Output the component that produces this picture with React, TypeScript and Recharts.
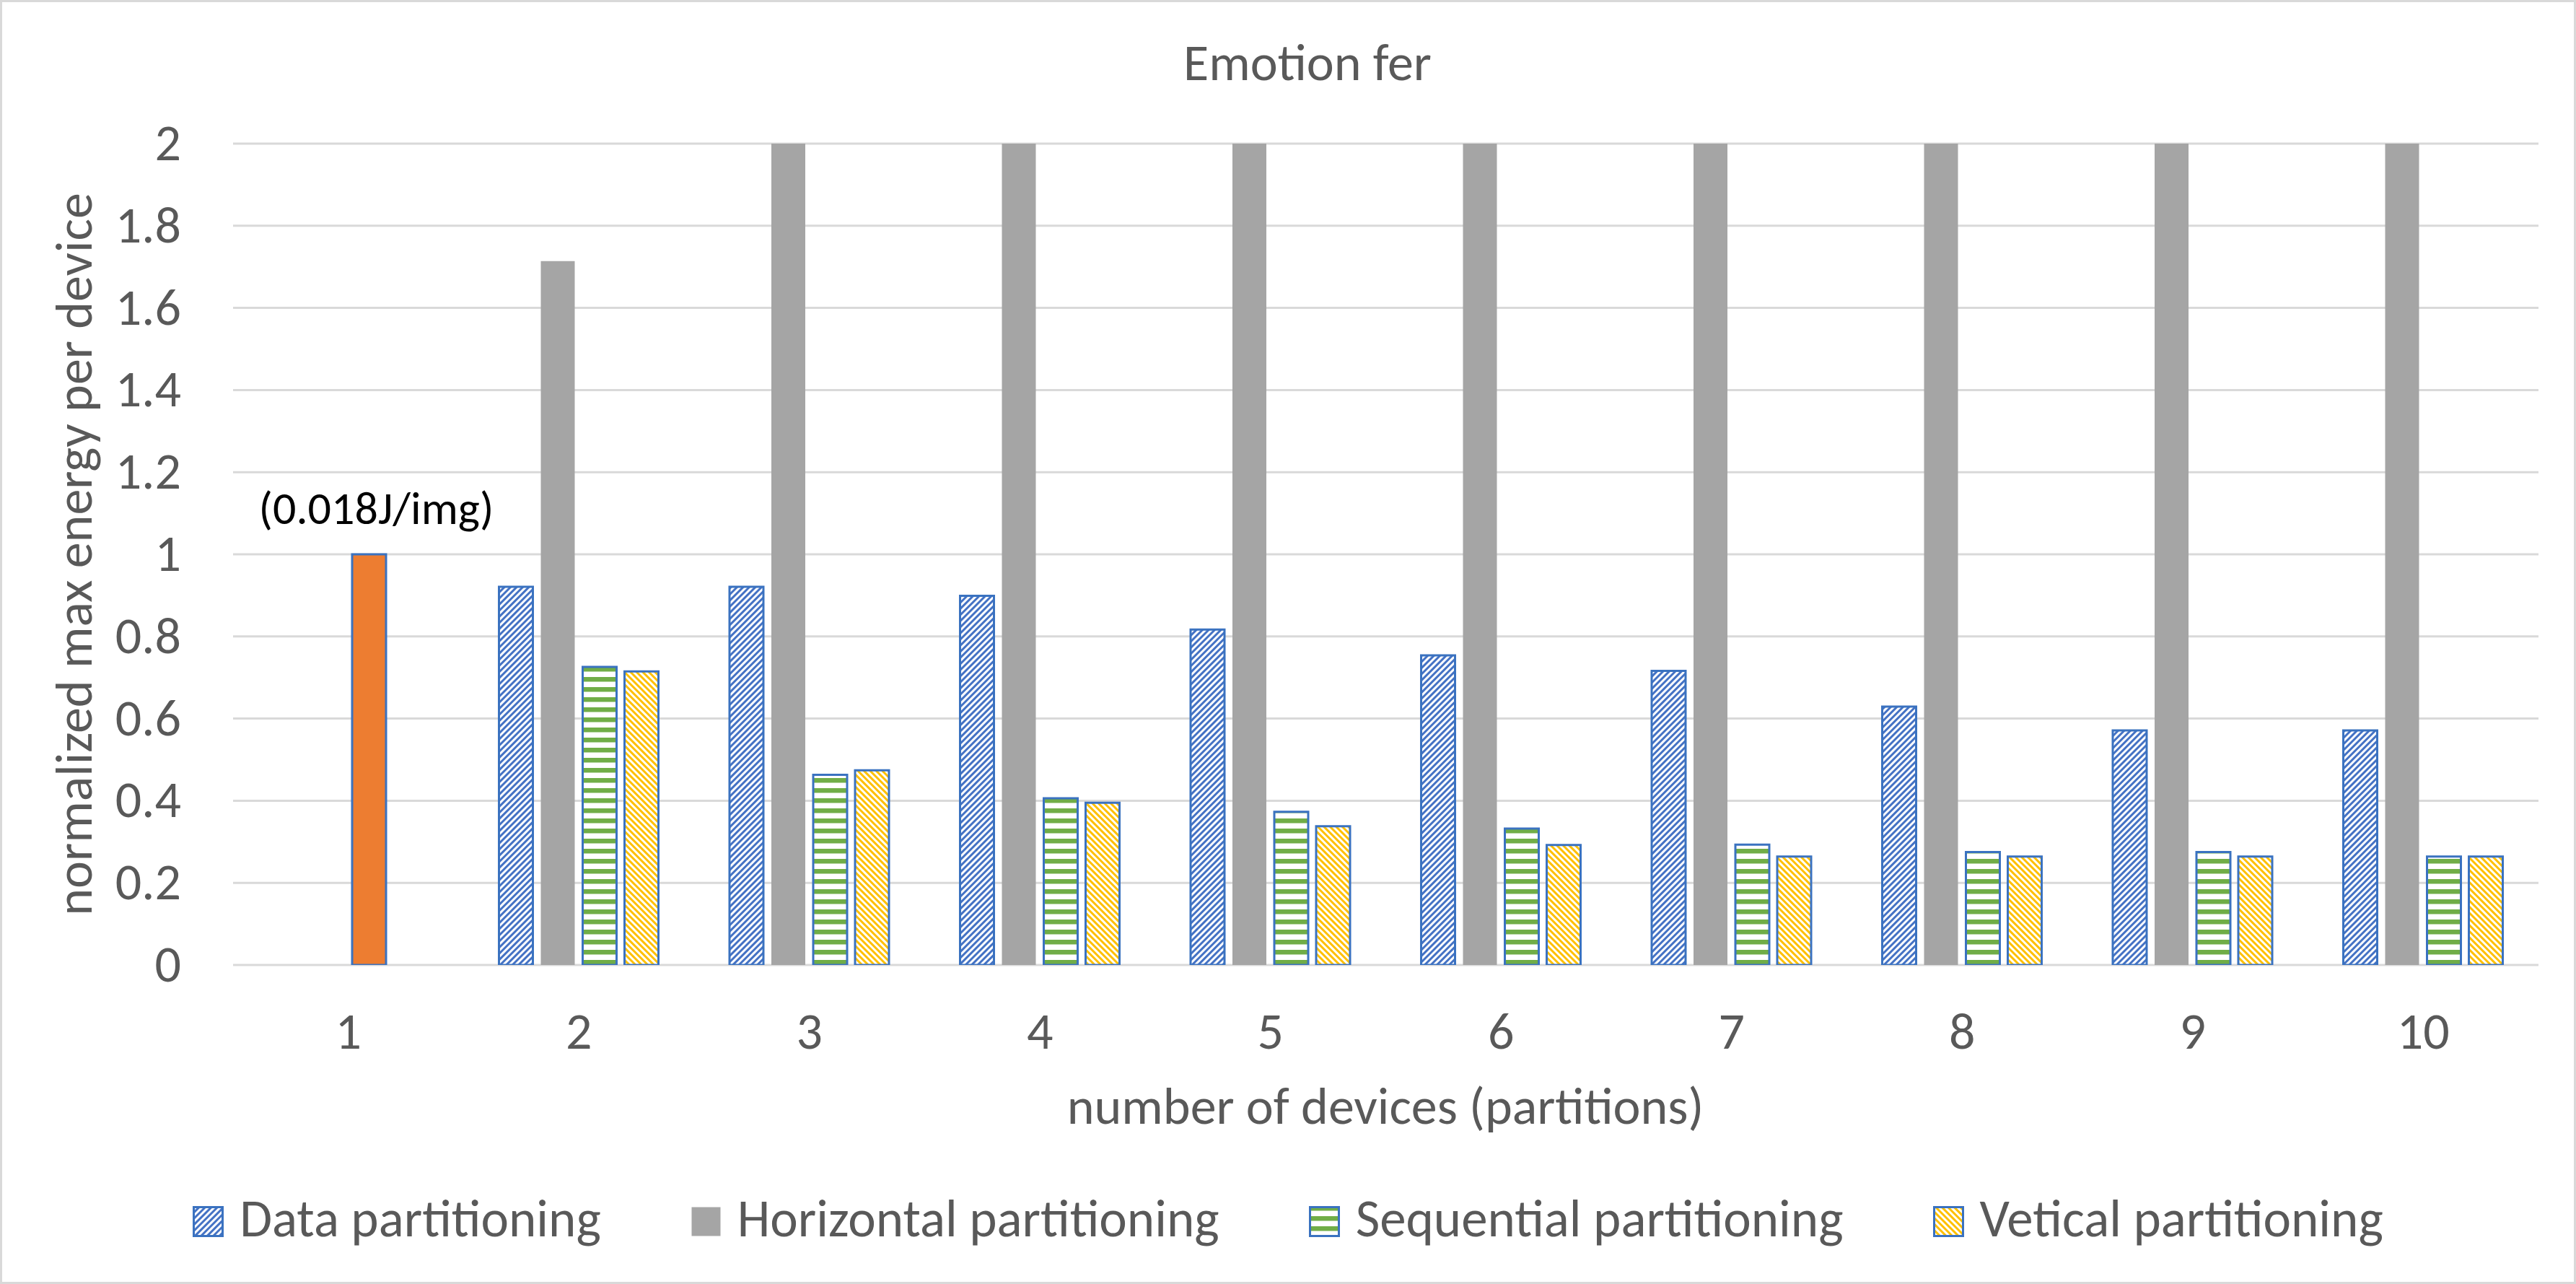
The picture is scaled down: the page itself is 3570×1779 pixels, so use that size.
import React from "react";
import {
  BarChart,
  Bar,
  XAxis,
  YAxis,
  CartesianGrid,
  Legend,
  LabelList,
  Cell,
} from "recharts";

// values (normalized max energy per device)
const categories = ["1", "2", "3", "4", "5", "6", "7", "8", "9", "10"];
const dataPartitioning = [null, 0.921, 0.921, 0.899, 0.817, 0.754, 0.716, 0.629, 0.571, 0.571];
// bars 3..10 run past the top of the axis, so these are rough guesses
const horizontalPartitioning = [null, 1.714, 2.55, 3.4, 4.3, 5.1, 6.0, 6.9, 7.7, 8.6];
const sequentialPartitioning = [1.0, 0.726, 0.463, 0.406, 0.373, 0.332, 0.293, 0.275, 0.275, 0.264];
const verticalPartitioning = [null, 0.715, 0.474, 0.395, 0.338, 0.292, 0.264, 0.264, 0.264, 0.264];
const yTicks = [0, 0.2, 0.4, 0.6, 0.8, 1, 1.2, 1.4, 1.6, 1.8, 2];

const seriesNames = [
  "Data partitioning",
  "Horizontal partitioning",
  "Sequential partitioning",
  "Vetical partitioning",
];
const chartTitle = "Emotion fer";
const xTitle = "number of devices (partitions)";
const yTitle = "normalized max energy per device";
const baselineNote = "(0.018J/img)";

const rows = categories.map((c, i) => ({
  devices: c,
  data: dataPartitioning[i],
  horizontal: horizontalPartitioning[i],
  sequential: sequentialPartitioning[i],
  vertical: verticalPartitioning[i],
}));

const W = 3570;
const H = 1779;
const FONT = "Carlito, Calibri, Lato, sans-serif";
const FS = 72;
const TEXT = "#595959";
const BORDER = "#3A72C0";
const BLUE = "#4472C4";
const GREEN = "#70AD47";
const GOLD = "#FFC000";
const GRAY = "#A5A5A5";
const ORANGE = "#ED7D31";
const GRID = "#D9D9D9";

const renderPatterns = (p: string) => (
  <defs>
    <pattern id={`${p}-data`} patternUnits="userSpaceOnUse" width={6} height={6} patternTransform="rotate(45)">
      <rect width={6} height={6} fill="#fff" />
      <rect width={3} height={6} fill={BLUE} />
    </pattern>
    <pattern id={`${p}-seq`} patternUnits="userSpaceOnUse" width={14} height={14}>
      <rect width={14} height={14} fill="#fff" />
      <rect y={0} width={14} height={6.5} fill={GREEN} />
    </pattern>
    <pattern id={`${p}-vert`} patternUnits="userSpaceOnUse" width={6} height={6} patternTransform="rotate(-45)">
      <rect width={6} height={6} fill="#fff" />
      <rect width={3} height={6} fill={GOLD} />
    </pattern>
  </defs>
);

const seriesFills = ["url(#lg-data)", GRAY, "url(#lg-seq)", "url(#lg-vert)"];
const seriesStrokes = [BORDER, "none", BORDER, BORDER];

type TickProps = { x: number; y: number; payload: { value: string | number } };

const renderYTick = ({ x, y, payload }: TickProps) => (
  <text x={x} y={y + 23} textAnchor="end" fill={TEXT} fontSize={FS} fontFamily={FONT}>
    {String(payload.value)}
  </text>
);

const renderXTick = ({ x, y, payload }: TickProps) => (
  <text x={x} y={y + 116} textAnchor="middle" fill={TEXT} fontSize={FS} fontFamily={FONT}>
    {payload.value}
  </text>
);

const renderNote = (props: any) => {
  const { x, y, width, index } = props;
  if (index !== 0) return null;
  return (
    <text
      x={Number(x) + Number(width) / 2 + 10}
      y={Number(y) - 42}
      textAnchor="middle"
      fill="#000"
      fontSize={64}
      fontFamily={FONT}
    >
      {baselineNote}
    </text>
  );
};

const renderLegend = () => (
  <div
    style={{
      display: "flex",
      justifyContent: "center",
      alignItems: "center",
      fontFamily: FONT,
      fontSize: 73,
      lineHeight: `${FS}px`,
      color: TEXT,
      whiteSpace: "nowrap",
    }}
  >
    {seriesNames.map((name, i) => (
      <div key={name} style={{ display: "flex", alignItems: "center", marginLeft: i ? 124 : 0 }}>
        <svg width={43} height={43} style={{ marginRight: 22, position: "relative", top: 4 }}>
          {i === 0 ? renderPatterns("lg") : null}
          {i === 1 ? (
            <rect x={1.5} y={1.5} width={40} height={40} fill={GRAY} />
          ) : (
            <rect x={1.5} y={1.5} width={40} height={40} fill={seriesFills[i]} stroke={seriesStrokes[i]} strokeWidth={3} />
          )}
        </svg>
        <span>{name}</span>
      </div>
    ))}
  </div>
);

export default function App() {
  return (
    <div style={{ position: "absolute", left: 0, top: 0, background: "#fff" }}>
      <BarChart
        width={W}
        height={H}
        data={rows}
        margin={{ top: 199, right: 52, bottom: 322, left: 251 }}
        barSize={47}
        barGap={11}
      >
        {renderPatterns("p")}
        <rect x={1.5} y={1.5} width={W - 3} height={H - 3} fill="none" stroke={GRID} strokeWidth={3} />
        <CartesianGrid vertical={false} stroke={GRID} strokeWidth={3} />
        <XAxis
          dataKey="devices"
          height={120}
          axisLine={false}
          tickLine={false}
          tickSize={0}
          tickMargin={0}
          interval={0}
          tick={renderXTick}
        />
        <YAxis
          width={72}
          domain={[0, 2]}
          ticks={yTicks}
          allowDataOverflow
          axisLine={false}
          tickLine={false}
          tickSize={0}
          tickMargin={72}
          tick={renderYTick}
        />
        <Bar dataKey="data" name={seriesNames[0]} fill="url(#p-data)" stroke={BORDER} strokeWidth={3} isAnimationActive={false} />
        <Bar dataKey="horizontal" name={seriesNames[1]} fill={GRAY} isAnimationActive={false} />
        <Bar dataKey="sequential" name={seriesNames[2]} fill="url(#p-seq)" stroke={BORDER} strokeWidth={3} isAnimationActive={false}>
          {rows.map((r, i) => (
            <Cell key={r.devices} fill={i === 0 ? ORANGE : "url(#p-seq)"} />
          ))}
          <LabelList dataKey="sequential" content={renderNote} />
        </Bar>
        <Bar dataKey="vertical" name={seriesNames[3]} fill="url(#p-vert)" stroke={BORDER} strokeWidth={3} isAnimationActive={false} />
        <Legend
          layout="horizontal"
          verticalAlign="middle"
          align="center"
          wrapperStyle={{ top: 1652, left: 0, width: W, height: FS }}
          content={renderLegend}
        />
        <text x={1812} y={111} textAnchor="middle" fill={TEXT} fontSize={FS} fontFamily={FONT}>
          {chartTitle}
        </text>
        <text x={1920} y={1557} textAnchor="middle" fill={TEXT} fontSize={FS} fontFamily={FONT}>
          {xTitle}
        </text>
        <text
          x={127}
          y={768}
          transform="rotate(-90 127 768)"
          textAnchor="middle"
          fill={TEXT}
          fontSize={FS}
          fontFamily={FONT}
        >
          {yTitle}
        </text>
      </BarChart>
    </div>
  );
}
